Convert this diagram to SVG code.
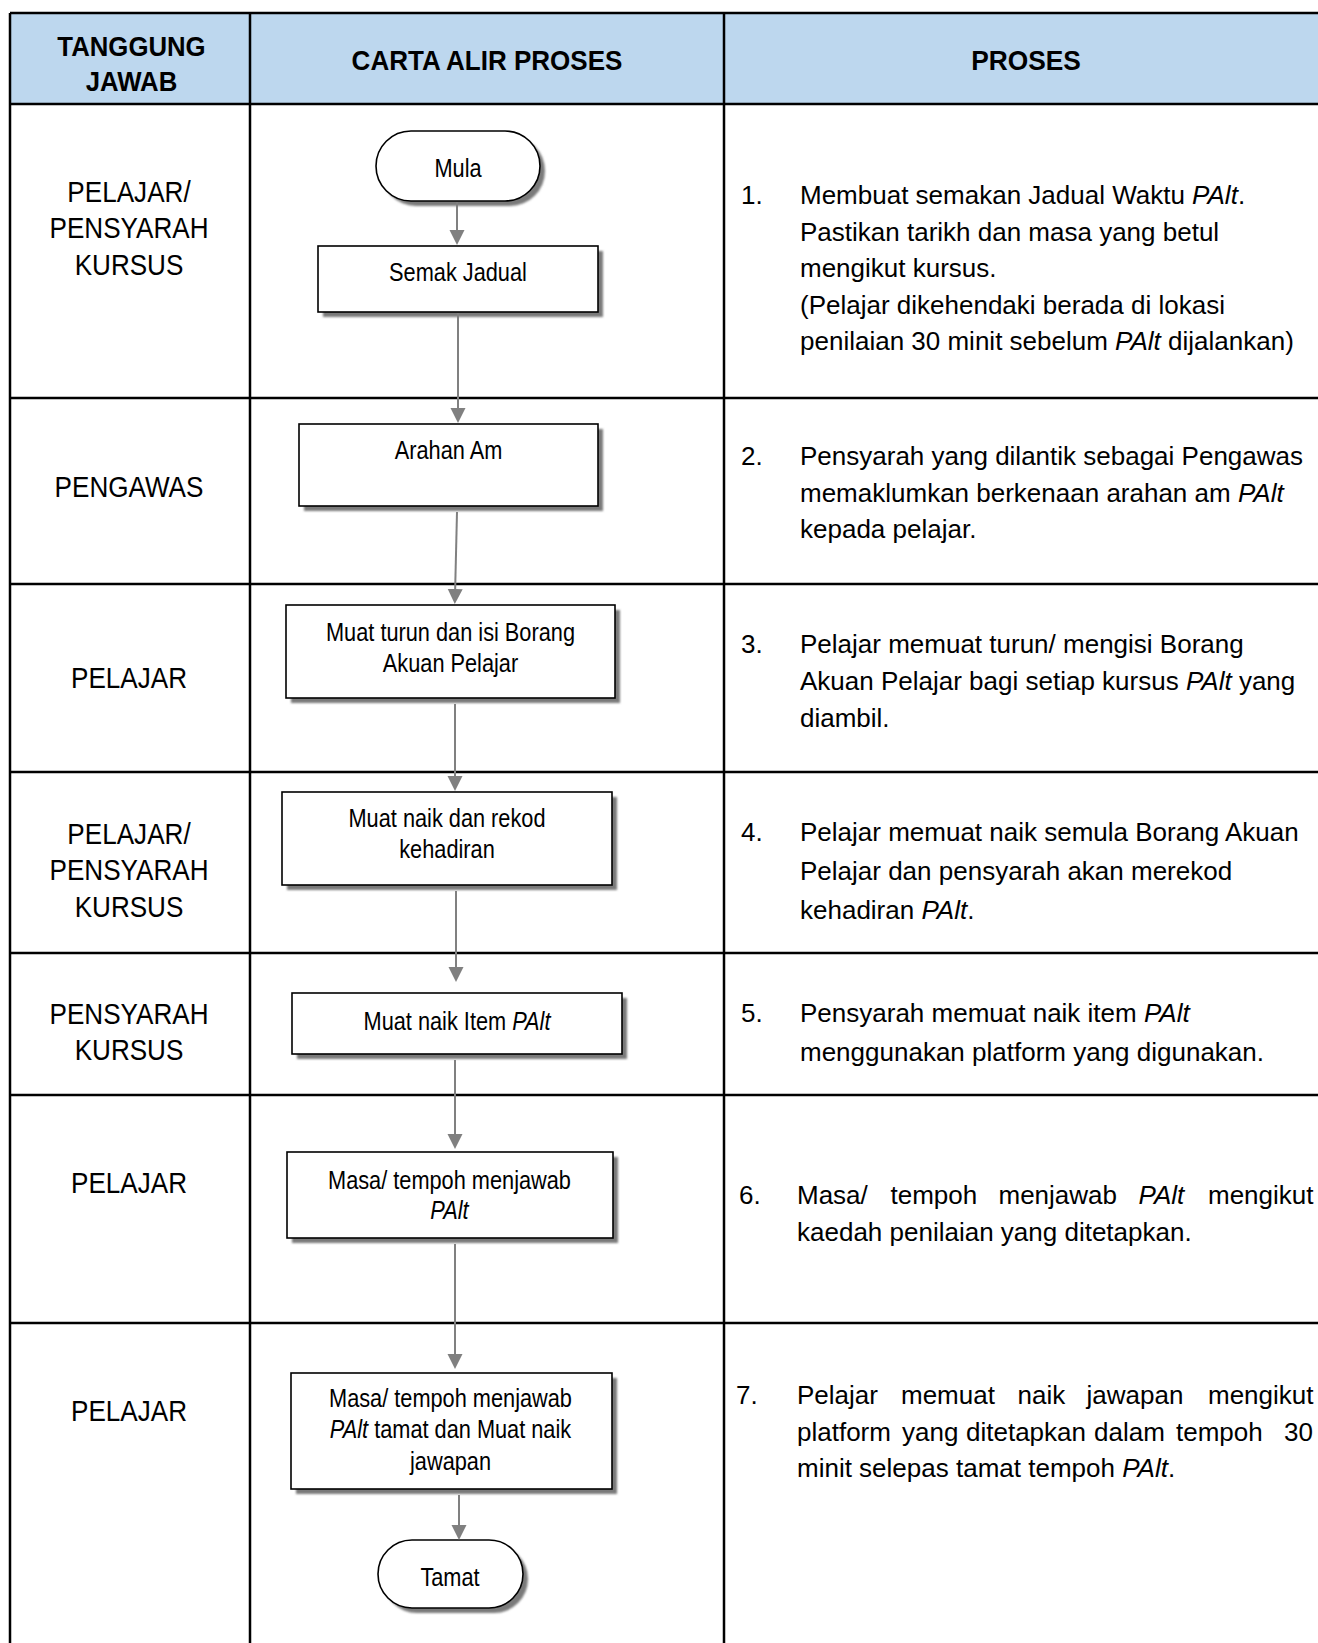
<svg xmlns="http://www.w3.org/2000/svg" width="1318" height="1643" viewBox="0 0 1318 1643">
<style>
text{font-family:"Liberation Sans",Arial,sans-serif;fill:#000}
.hd{font-weight:bold;font-size:28px;text-anchor:middle}
.lb{font-size:29px;text-anchor:middle}
.nt{font-size:25px;text-anchor:middle}
.tx{font-size:26px}
.it{font-style:italic}
.grid{stroke:#000;stroke-width:2.5;fill:none}
.box{fill:#fff;stroke:#000;stroke-width:1.6}
.shd{fill:#7a7a7a;filter:url(#blur)}
.con{stroke:#808080;stroke-width:2;fill:none;marker-end:url(#arr)}
</style>
<defs>
<filter id="blur" x="-5%" y="-5%" width="110%" height="120%"><feGaussianBlur stdDeviation="1.2"/></filter>
<marker id="arr" markerUnits="userSpaceOnUse" markerWidth="16" markerHeight="16" refX="7" refY="7.5" orient="auto"><path d="M0,0 L15,7.5 L0,15 Z" fill="#808080"/></marker>
</defs>
<rect width="1318" height="1643" fill="#fff"/>
<g id="table">
<rect x="10" y="13" width="1308" height="91" fill="#BDD7EE"/>
<path class="grid" d="M10,13H1318M10,104H1318M10,398H1318M10,584H1318M10,772H1318M10,953H1318M10,1095H1318M10,1323H1318M10,13V1643M250,13V1643M724,13V1643"/>
</g>
<g id="headers">
<text class="hd" transform="translate(131.5,0) scale(0.92,1)" x="0" y="56">TANGGUNG</text>
<text class="hd" transform="translate(131.5,0) scale(0.92,1)" x="0" y="91">JAWAB</text>
<text class="hd" transform="translate(487,0) scale(0.93,1)" x="0" y="70">CARTA ALIR PROSES</text>
<text class="hd" transform="translate(1026,0) scale(0.94,1)" x="0" y="70">PROSES</text>
</g>
<g id="roles">
<g transform="translate(129,0) scale(0.9,1)">
<text class="lb" x="0" y="202">PELAJAR/</text>
<text class="lb" x="0" y="238.5">PENSYARAH</text>
<text class="lb" x="0" y="275">KURSUS</text>
<text class="lb" x="0" y="497">PENGAWAS</text>
<text class="lb" x="0" y="688">PELAJAR</text>
<text class="lb" x="0" y="844">PELAJAR/</text>
<text class="lb" x="0" y="880.5">PENSYARAH</text>
<text class="lb" x="0" y="917">KURSUS</text>
<text class="lb" x="0" y="1024">PENSYARAH</text>
<text class="lb" x="0" y="1060.5">KURSUS</text>
<text class="lb" x="0" y="1193">PELAJAR</text>
<text class="lb" x="0" y="1421">PELAJAR</text>
</g>
</g>
<g id="steps">
<text class="tx" x="741" y="204">1.</text>
<text class="tx" x="800" y="204">Membuat semakan Jadual Waktu <tspan class="it">PAlt</tspan>.</text>
<text class="tx" x="800" y="240.5">Pastikan tarikh dan masa yang betul</text>
<text class="tx" x="800" y="277">mengikut kursus.</text>
<text class="tx" x="800" y="313.5">(Pelajar dikehendaki berada di lokasi</text>
<text class="tx" x="800" y="350">penilaian 30 minit sebelum <tspan class="it">PAlt</tspan> dijalankan)</text>
<text class="tx" x="741" y="465">2.</text>
<text class="tx" x="800" y="465">Pensyarah yang dilantik sebagai Pengawas</text>
<text class="tx" x="800" y="501.5">memaklumkan berkenaan arahan am <tspan class="it">PAlt</tspan></text>
<text class="tx" x="800" y="538">kepada pelajar.</text>
<text class="tx" x="741" y="652.5">3.</text>
<text class="tx" x="800" y="652.5">Pelajar memuat turun/ mengisi Borang</text>
<text class="tx" x="800" y="690">Akuan Pelajar bagi setiap kursus <tspan class="it">PAlt</tspan> yang</text>
<text class="tx" x="800" y="727">diambil.</text>
<text class="tx" x="741" y="840.5">4.</text>
<text class="tx" x="800" y="840.5">Pelajar memuat naik semula Borang Akuan</text>
<text class="tx" x="800" y="879.5">Pelajar dan pensyarah akan merekod</text>
<text class="tx" x="800" y="919">kehadiran <tspan class="it">PAlt</tspan>.</text>
<text class="tx" x="741" y="1021.5">5.</text>
<text class="tx" x="800" y="1021.5">Pensyarah memuat naik item <tspan class="it">PAlt</tspan></text>
<text class="tx" x="800" y="1061">menggunakan platform yang digunakan.</text>
<text class="tx" x="739" y="1204">6.</text>
<text class="tx" y="1204"><tspan x="797">Masa/</tspan><tspan x="890.5">tempoh</tspan><tspan x="998.5">menjawab</tspan><tspan x="1138.5" class="it">PAlt</tspan><tspan x="1208">mengikut</tspan></text>
<text class="tx" x="797" y="1240.5">kaedah penilaian yang ditetapkan.</text>
<text class="tx" x="736" y="1404">7.</text>
<text class="tx" y="1404"><tspan x="797">Pelajar</tspan><tspan x="901">memuat</tspan><tspan x="1017.5">naik</tspan><tspan x="1086.5">jawapan</tspan><tspan x="1208">mengikut</tspan></text>
<text class="tx" y="1440.5"><tspan x="797">platform</tspan><tspan x="902">yang</tspan><tspan x="966">ditetapkan</tspan><tspan x="1094">dalam</tspan><tspan x="1176">tempoh</tspan><tspan x="1284">30</tspan></text>
<text class="tx" x="797" y="1477">minit selepas tamat tempoh <tspan class="it">PAlt</tspan>.</text>
</g>
<g id="n1">
<rect class="shd" x="381" y="136" width="164" height="70" rx="35"/>
<rect class="box" x="376" y="131" width="164" height="70" rx="35"/>
<text class="nt" transform="translate(458,0) scale(0.87,1)" x="0" y="177">Mula</text>
</g>
<g id="n2">
<rect class="shd" x="323" y="251" width="280" height="66"/>
<rect class="box" x="318" y="246" width="280" height="66"/>
<text class="nt" transform="translate(458,0) scale(0.87,1)" x="0" y="281">Semak Jadual</text>
</g>
<g id="n3">
<rect class="shd" x="304" y="429" width="299" height="82"/>
<rect class="box" x="299" y="424" width="299" height="82"/>
<text class="nt" transform="translate(448.5,0) scale(0.87,1)" x="0" y="459">Arahan Am</text>
</g>
<g id="n4">
<rect class="shd" x="291" y="610" width="329" height="93"/>
<rect class="box" x="286" y="605" width="329" height="93"/>
<g transform="translate(450.5,0) scale(0.87,1)">
<text class="nt" x="0" y="641">Muat turun dan isi Borang</text>
<text class="nt" x="0" y="672">Akuan Pelajar</text>
</g>
</g>
<g id="n5">
<rect class="shd" x="287" y="797" width="330" height="93"/>
<rect class="box" x="282" y="792" width="330" height="93"/>
<g transform="translate(447,0) scale(0.87,1)">
<text class="nt" x="0" y="827">Muat naik dan rekod</text>
<text class="nt" x="0" y="858">kehadiran</text>
</g>
</g>
<g id="n6">
<rect class="shd" x="297" y="998" width="330" height="61"/>
<rect class="box" x="292" y="993" width="330" height="61"/>
<text class="nt" transform="translate(457,0) scale(0.87,1)" x="0" y="1030">Muat naik Item <tspan class="it">PAlt</tspan></text>
</g>
<g id="n7">
<rect class="shd" x="292" y="1157" width="326" height="86"/>
<rect class="box" x="287" y="1152" width="326" height="86"/>
<g transform="translate(449.5,0) scale(0.87,1)">
<text class="nt" x="0" y="1189">Masa/ tempoh menjawab</text>
<text class="nt it" x="0" y="1219">PAlt</text>
</g>
</g>
<g id="n8">
<rect class="shd" x="296" y="1378" width="321" height="116"/>
<rect class="box" x="291" y="1373" width="321" height="116"/>
<g transform="translate(450.5,0) scale(0.87,1)">
<text class="nt" x="0" y="1407">Masa/ tempoh menjawab</text>
<text class="nt" x="0" y="1438"><tspan class="it">PAlt</tspan> tamat dan Muat naik</text>
<text class="nt" x="0" y="1470">jawapan</text>
</g>
</g>
<g id="n9">
<rect class="shd" x="383" y="1545" width="145" height="68" rx="34"/>
<rect class="box" x="378" y="1540" width="145" height="68" rx="34"/>
<text class="nt" transform="translate(450,0) scale(0.87,1)" x="0" y="1586">Tamat</text>
</g>
<g id="connectors">
<path class="con" d="M457,202 L457,237"/>
<path class="con" d="M458,313 L458,415"/>
<path class="con" d="M457,512 L455,596"/>
<path class="con" d="M455,704 L455,783"/>
<path class="con" d="M456,891 L456,974"/>
<path class="con" d="M455,1060 L455,1141"/>
<path class="con" d="M455,1244 L455,1361"/>
<path class="con" d="M459,1495 L459,1532"/>
</g>
</svg>
